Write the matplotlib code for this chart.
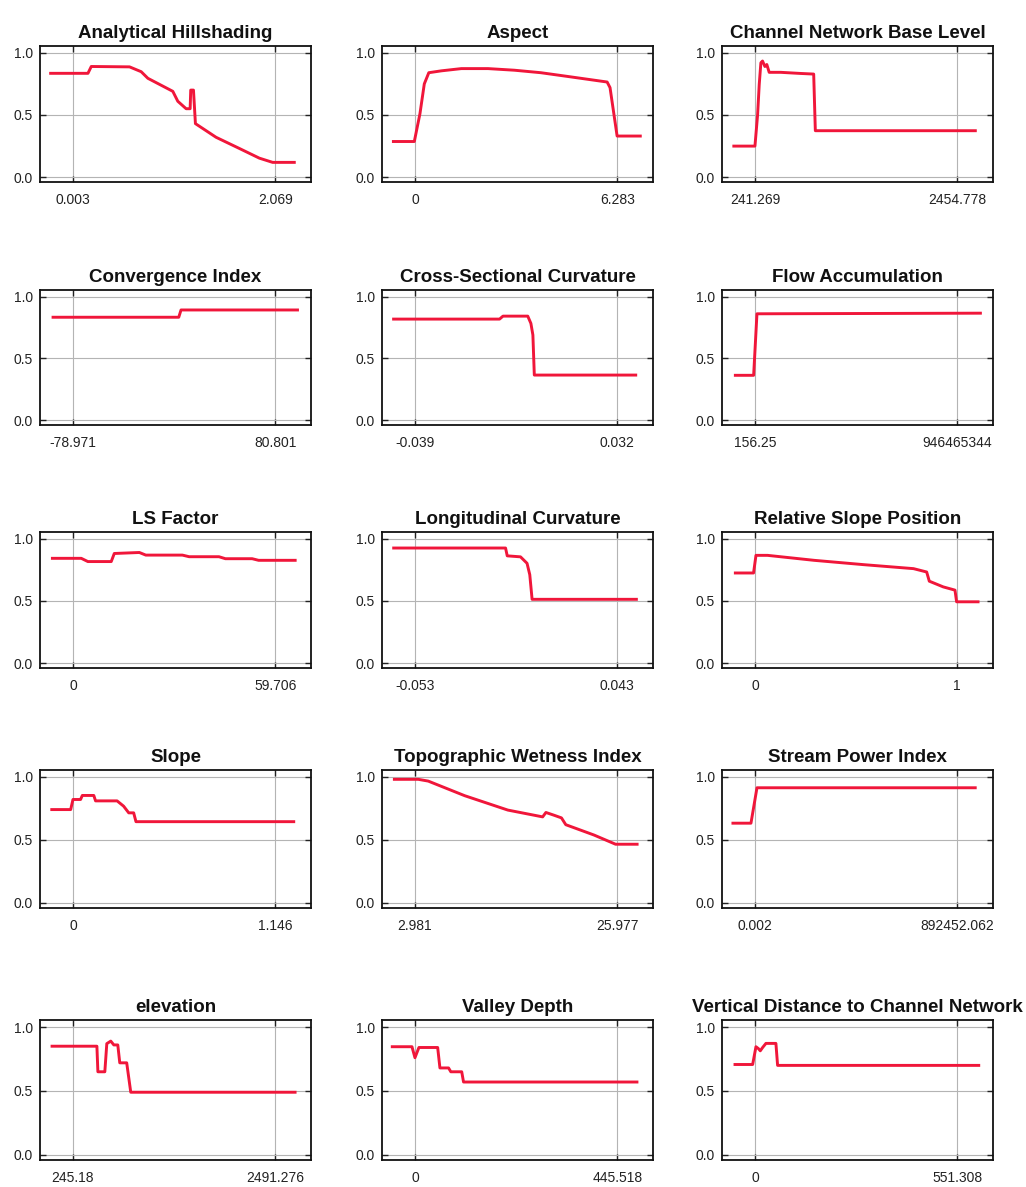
import matplotlib.pyplot as plt

plt.rcParams['font.family'] = ['Liberation Sans', 'DejaVu Sans']

titles = [
    "Analytical Hillshading", "Aspect", "Channel Network Base Level",
    "Convergence Index", "Cross-Sectional Curvature", "Flow Accumulation",
    "LS Factor", "Longitudinal Curvature", "Relative Slope Position",
    "Slope", "Topographic Wetness Index", "Stream Power Index",
    "elevation", "Valley Depth", "Vertical Distance to Channel Network",
]

# min / max of each variable (the two x ticks) and their printed labels
x_lo = [0.003, 0, 241.269, -78.971, -0.039, 156.25, 0, -0.053, 0, 0, 2.981, 0.002, 245.18, 0, 0]
x_hi = [2.069, 6.283, 2454.778, 80.801, 0.032, 946465344, 59.706, 0.043, 1, 1.146, 25.977,
        892452.062, 2491.276, 445.518, 551.308]
lo_labels = ["0.003", "0", "241.269", "-78.971", "-0.039", "156.25", "0", "-0.053", "0", "0",
             "2.981", "0.002", "245.18", "0", "0"]
hi_labels = ["2.069", "6.283", "2454.778", "80.801", "0.032", "946465344", "59.706", "0.043", "1",
             "1.146", "25.977", "892452.062", "2491.276", "445.518", "551.308"]

# response curves
hill_x = [-0.225, 0.156, 0.19, 0.581, 0.70, 0.768, 1.023, 1.074, 1.159, 1.20, 1.206, 1.234, 1.254,
          1.465, 1.703, 1.907, 2.043, 2.264]
hill_y = [0.835, 0.835, 0.89, 0.887, 0.848, 0.795, 0.69, 0.61, 0.55, 0.55, 0.70, 0.70, 0.43,
          0.32, 0.23, 0.152, 0.118, 0.118]

aspect_x = [-0.67, -0.02, 0.155, 0.29, 0.43, 0.82, 1.44, 2.27, 3.09, 3.91, 4.74, 5.56, 5.97, 6.06, 6.28, 7.0]
aspect_y = [0.286, 0.286, 0.51, 0.75, 0.84, 0.855, 0.873, 0.873, 0.86, 0.84, 0.81, 0.78, 0.765, 0.72,
            0.33, 0.33]

cnbl_x = [10, 241, 270, 288, 306, 324, 350, 371, 397, 523, 740, 884, 902, 2653]
cnbl_y = [0.249, 0.249, 0.50, 0.746, 0.92, 0.934, 0.89, 0.906, 0.843, 0.843, 0.834, 0.829, 0.373, 0.373]

conv_x = [-94.7, 4.6, 6.4, 98.4]
conv_y = [0.834, 0.834, 0.893, 0.893]

cross_x = [-0.0465, -0.0093, -0.0081, 0.0006, 0.0017, 0.0024, 0.0029, 0.0385]
cross_y = [0.819, 0.819, 0.843, 0.843, 0.784, 0.69, 0.365, 0.365]

flow_x = [-9.18e7, -6.2e6, 9.3e6, 1.055e9]
flow_y = [0.363, 0.363, 0.862, 0.867]

ls_x = [-6.07, 2.45, 4.4, 11.3, 12.2, 19.6, 21.5, 32.3, 34.3, 43.1, 45.0, 52.9, 54.8, 65.6]
ls_y = [0.843, 0.843, 0.817, 0.817, 0.882, 0.89, 0.869, 0.869, 0.856, 0.856, 0.84, 0.84, 0.827, 0.827]

long_x = [-0.0631, -0.0100, -0.0092, -0.0029, 0.0002, 0.0015, 0.0026, 0.0521]
long_y = [0.926, 0.926, 0.863, 0.855, 0.803, 0.711, 0.513, 0.513]

rsp_x = [-0.097, -0.007, 0.005, 0.062, 0.292, 0.538, 0.784, 0.849, 0.862, 0.931, 0.989, 0.997, 1.103]
rsp_y = [0.725, 0.725, 0.867, 0.867, 0.827, 0.792, 0.76, 0.733, 0.659, 0.613, 0.587, 0.493, 0.493]

slope_x = [-0.12, -0.013, 0, 0.043, 0.053, 0.118, 0.128, 0.25, 0.287, 0.316, 0.344, 0.357, 1.251]
slope_y = [0.741, 0.741, 0.821, 0.821, 0.853, 0.853, 0.81, 0.81, 0.768, 0.715, 0.715, 0.645, 0.645]

twi_x = [0.64, 3.36, 4.49, 8.64, 13.54, 17.5, 17.87, 18.8, 19.64, 20.13, 23.34, 25.79, 28.24]
twi_y = [0.981, 0.981, 0.967, 0.851, 0.737, 0.683, 0.718, 0.696, 0.675, 0.621, 0.539, 0.466, 0.466]

spi_x = [-97200, -17670, 8836, 972000]
spi_y = [0.633, 0.633, 0.914, 0.914]

elev_x = [13, 511, 522, 599, 621, 665, 699, 743, 765, 842, 887, 2712]
elev_y = [0.85, 0.85, 0.65, 0.65, 0.87, 0.89, 0.86, 0.86, 0.72, 0.72, 0.49, 0.49]

vd_x = [-50, -6.6, 0, 8.7, 50, 55, 74, 79, 103, 107, 489]
vd_y = [0.846, 0.846, 0.76, 0.84, 0.84, 0.68, 0.68, 0.65, 0.65, 0.57, 0.57]

vdcn_x = [-54.4, -6.3, 2.7, 9.1, 14.5, 20.9, 29.9, 57.1, 61.7, 610]
vdcn_y = [0.707, 0.707, 0.846, 0.832, 0.814, 0.84, 0.872, 0.872, 0.70, 0.70]

curves = [
    (hill_x, hill_y), (aspect_x, aspect_y), (cnbl_x, cnbl_y),
    (conv_x, conv_y), (cross_x, cross_y), (flow_x, flow_y),
    (ls_x, ls_y), (long_x, long_y), (rsp_x, rsp_y),
    (slope_x, slope_y), (twi_x, twi_y), (spi_x, spi_y),
    (elev_x, elev_y), (vd_x, vd_y), (vdcn_x, vdcn_y),
]

W, H = 1026, 1187
fig = plt.figure(figsize=(W / 100, H / 100), dpi=100)

col_left = [40, 382, 722]
col_width = 271
row_top = [46, 290, 532, 770, 1020]
row_bottom = [182, 425, 668, 908, 1160]

for i, title in enumerate(titles):
    r, c = divmod(i, 3)
    ax = fig.add_axes([col_left[c] / W, 1 - row_bottom[r] / H,
                       col_width / W, (row_bottom[r] - row_top[r]) / H])
    xs, ys = curves[i]
    ax.plot(xs, ys, color='#f0163a', lw=2.1, solid_joinstyle='round')

    span = x_hi[i] - x_lo[i]
    ax.set_xlim(x_lo[i] - 0.163 * span, x_hi[i] + 0.177 * span)
    ax.set_ylim(-0.04, 1.055)
    ax.set_xticks([x_lo[i], x_hi[i]])
    ax.set_xticklabels([lo_labels[i], hi_labels[i]])
    ax.set_yticks([0.0, 0.5, 1.0])
    ax.set_yticklabels(["0.0", "0.5", "1.0"])
    ax.grid(True, color='#b4b4b4', lw=0.8)
    ax.set_axisbelow(True)
    ax.tick_params(direction='in', length=4, width=1, top=True, right=True,
                   labelsize=10, colors='#222222')
    ax.tick_params(axis='x', pad=8)
    ax.tick_params(axis='y', pad=5)
    for s in ax.spines.values():
        s.set_linewidth(1.3)
        s.set_color('#111111')
    ax.set_title(title, fontsize=13.5, fontweight='bold', pad=6, color='#111111')

fig.savefig("out.png", dpi=100)
